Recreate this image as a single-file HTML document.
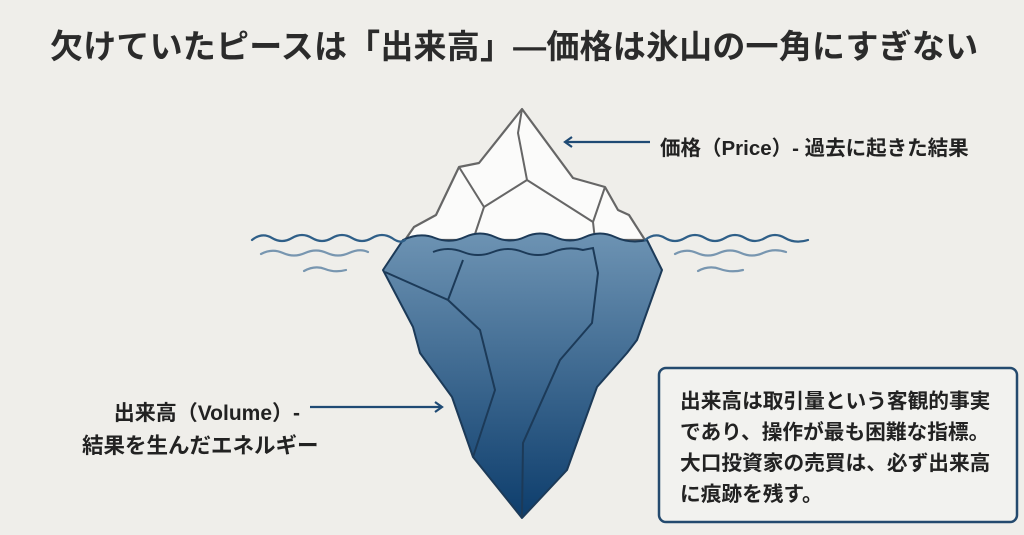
<!DOCTYPE html>
<html><head><meta charset="utf-8"><style>
html,body{margin:0;padding:0;background:#efeeea;}
body{width:1024px;height:535px;overflow:hidden;position:relative;font-family:"Liberation Sans","Noto Sans CJK JP",sans-serif;color:#222;}
.t{position:absolute;white-space:nowrap;font-weight:bold;}
</style></head><body>
<svg width="1024" height="535" style="position:absolute;left:0;top:0">
<defs>
<linearGradient id="g" x1="0" y1="0" x2="0" y2="1">
<stop offset="0" stop-color="#6d93b3"/><stop offset="1" stop-color="#0d3d6c"/>
</linearGradient>
<marker id="a" markerWidth="10" markerHeight="12" refX="8" refY="6" orient="auto" markerUnits="userSpaceOnUse">
<path d="M1,1 L8,6 L1,11" fill="none" stroke="#1f4a74" stroke-width="2.2"/>
</marker>
</defs>
<polygon points="522,109 479,163 459,167 436,215 414,227 405,240 645,240 629,215 618,210 605,187 573,178" fill="#fbfbfa" stroke="#666" stroke-width="2.2" stroke-linejoin="round"/>
<polyline points="522,109 518,133 527,180 593,222 595,240" fill="none" stroke="#666" stroke-width="2"/>
<polyline points="459,167 484,207 473,240" fill="none" stroke="#666" stroke-width="2"/>
<polyline points="527,180 484,207" fill="none" stroke="#666" stroke-width="2"/>
<polyline points="593,222 605,187" fill="none" stroke="#666" stroke-width="2"/>
<path d="M403,240 Q420,232 435,238 Q450,244 465,237 Q480,230 495,237 Q510,244 525,237 Q540,230 555,237 Q570,244 585,237 Q600,230 615,237 Q630,244 647,240 L662,270 L637,340 L627,353 L597,387 L567,470 L522,518 L473,457 L452,397 L420,353 L413,327 L383,270 Z" fill="url(#g)" stroke="#1c3a58" stroke-width="2" stroke-linejoin="round"/>
<polyline points="385,272 448,300 480,330 495,390 473,457" fill="none" stroke="#1c3a58" stroke-width="2"/>
<polyline points="448,300 463,260" fill="none" stroke="#1c3a58" stroke-width="2"/>
<path d="M433,252 Q448,246 463,252 Q478,258 493,252 Q508,246 523,252 Q538,258 553,252 Q568,246 583,250 L593,248 L598,273 L592,323 L560,360 L523,443 L522,516" fill="none" stroke="#1c3a58" stroke-width="2"/>
<g fill="none" stroke="#2f5f88" stroke-width="2.2" stroke-linecap="round">
<path d="M252,240 Q262,232 272,238 Q282,244 292,238 Q302,232 312,238 Q322,244 332,238 Q342,232 352,238 Q362,244 372,238 Q382,232 392,238 Q400,244 405,240"/>
<path d="M645,240 Q655,232 665,238 Q675,244 685,238 Q695,232 705,238 Q715,244 725,238 Q735,232 745,238 Q755,244 765,238 Q775,232 785,238 Q795,244 808,240"/>
</g>
<g fill="none" stroke="#7896b0" stroke-width="2.2" stroke-linecap="round">
<path d="M261,254 Q272,248 283,253 Q294,258 305,253 Q316,248 327,253 Q338,258 349,253 Q360,248 368,252"/>
<path d="M304,271 Q315,265 325,269 Q335,273 346,270"/>
<path d="M675,254 Q686,248 697,253 Q708,258 719,253 Q730,248 741,253 Q752,258 763,253 Q774,248 786,252"/>
<path d="M698,271 Q709,265 720,269 Q731,273 743,270"/>
</g>
<line x1="650" y1="142" x2="565" y2="142" stroke="#1f4a74" stroke-width="2.2" marker-end="url(#a)"/>
<line x1="310" y1="407" x2="442" y2="407" stroke="#1f4a74" stroke-width="2.2" marker-end="url(#a)"/>
<rect x="659" y="368" width="358" height="154" rx="7" fill="#f2f2ef" stroke="#244a6e" stroke-width="2.5"/>
</svg>
<div class="t" style="left:50px;top:20px;font-size:33px;color:#2b2b2b;letter-spacing:0.2px">欠けていたピースは「出来高」―価格は氷山の一角にすぎない</div>
<div class="t" style="left:660px;top:131px;font-size:20.5px">価格（Price）- 過去に起きた結果</div>
<div class="t" style="right:724px;top:397px;font-size:21px">出来高（Volume）-</div>
<div class="t" style="left:82px;top:429px;font-size:21.5px">結果を生んだエネルギー</div>
<div class="t" style="left:680px;top:386px;font-size:20.7px;line-height:31px">出来高は取引量という客観的事実<br>であり、操作が最も困難な指標。<br>大口投資家の売買は、必ず出来高<br>に痕跡を残す。</div>
</body></html>
